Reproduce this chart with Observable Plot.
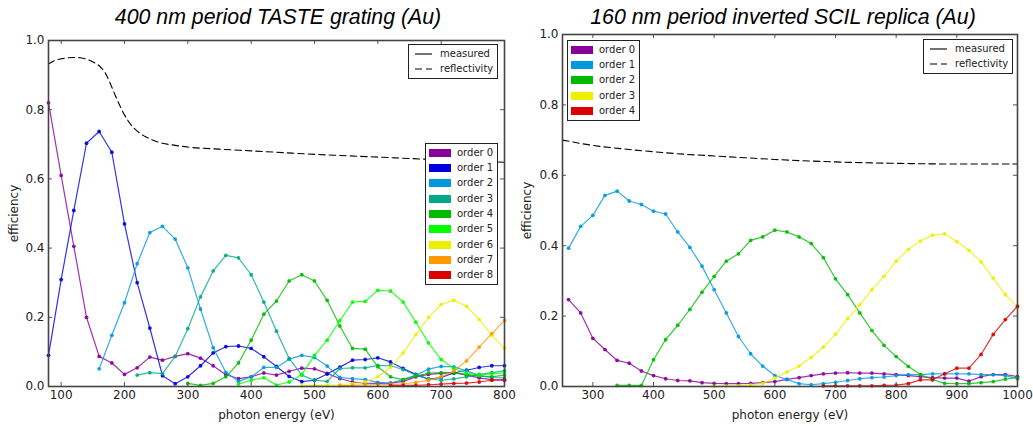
<!DOCTYPE html>
<html><head><meta charset="utf-8">
<script src="https://cdn.jsdelivr.net/npm/d3@7"></script>
<script src="https://cdn.jsdelivr.net/npm/@observablehq/plot@0.6"></script>
<style>
body{margin:0;background:#fff;}
#fig{position:relative;width:1033px;height:426px;overflow:hidden;font-family:"DejaVu Sans",sans-serif;background:#fff;}
.title{position:absolute;top:4px;line-height:26px;font-family:"Liberation Sans",Arial,sans-serif;font-style:italic;font-size:21.3px;white-space:nowrap;transform:translateX(-50%);color:#000;}
.panel{position:absolute;top:0;}
.legend{position:absolute;background:#fff;border:1px solid #222;font-size:10px;color:#222;box-sizing:border-box;}
.row{position:absolute;left:0;height:14px;line-height:14px;white-space:nowrap;}
.sw{position:absolute;width:22px;height:8px;}
.samp{position:absolute;}
</style>
</head><body>
<div id="fig"></div>
<script>
// ---------- data: left panel (400 nm period TASTE grating) ----------
const leftTitle = "400 nm period TASTE grating (Au)";
const leftEnergy = [80,100,120,140,160,180,200,220,240,260,280,300,320,340,360,380,400,420,440,460,480,500,520,540,560,580,600,620,640,660,680,700,720,740,760,780,800];
const leftOrder0 = [0.82,0.61,0.405,0.20,0.087,0.068,0.035,0.054,0.085,0.076,0.087,0.095,0.082,0.06,0.034,0.023,0.028,0.039,0.033,0.044,0.053,0.051,0.038,0.023,0.013,0.01,0.009,0.01,0.015,0.028,0.035,0.038,0.04,0.033,0.025,0.02,0.018];
const leftOrder1 = [0.09,0.309,0.509,0.703,0.737,0.677,0.47,0.30,0.169,0.031,0.008,0.028,0.06,0.097,0.115,0.117,0.11,0.086,0.058,0.029,0.014,0.018,0.036,0.056,0.076,0.078,0.083,0.071,0.052,0.035,0.021,0.026,0.039,0.047,0.055,0.06,0.06];
const leftOrder2 = [null,null,null,null,0.051,0.148,0.242,0.355,0.445,0.463,0.426,0.343,0.224,0.112,0.041,0.015,0.028,0.055,0.055,0.079,0.09,0.084,0.059,0.026,0.023,0.02,0.012,0.01,0.02,0.033,0.05,0.058,0.057,0.045,0.032,0.026,0.025];
const leftOrder3 = [null,null,null,null,null,null,null,0.033,0.04,0.037,0.087,0.167,0.259,0.334,0.379,0.372,0.323,0.244,0.16,0.081,0.033,0.018,0.015,0.052,0.054,0.054,0.061,0.06,0.049,0.033,0.022,0.018,0.022,0.028,0.035,0.04,0.045];
const leftOrder4 = [null,null,null,null,null,null,null,null,null,null,null,0.009,0.003,0.009,0.028,0.068,0.134,0.209,0.247,0.305,0.323,0.305,0.249,0.175,0.11,0.108,0.057,0.028,0.02,0.03,0.039,0.04,0.04,0.035,0.03,0.028,0.033];
const leftOrder5 = [null,null,null,null,null,null,null,null,null,null,null,null,null,null,null,0.007,0.018,0.025,0.004,0.013,0.035,0.09,0.134,0.19,0.244,0.246,0.278,0.276,0.244,0.186,0.126,0.078,0.052,0.039,0.033,0.037,0.039];
const leftOrder6 = [null,null,null,null,null,null,null,null,null,null,null,null,null,null,null,null,null,null,null,null,0.002,0.003,0.004,0.005,0.008,0.013,0.028,0.055,0.097,0.15,0.2,0.237,0.249,0.232,0.194,0.148,0.11];
const leftOrder7 = [null,null,null,null,null,null,null,null,null,null,null,null,null,null,null,null,null,null,null,null,null,null,null,0.002,0.003,0.005,0.005,0.006,0.008,0.012,0.018,0.028,0.045,0.074,0.114,0.153,0.191];
const leftOrder8 = [null,null,null,null,null,null,null,null,null,null,null,null,null,null,null,null,null,null,null,null,null,null,null,null,null,null,null,0.003,0.003,0.003,0.005,0.007,0.009,0.01,0.013,0.018,0.02];
const leftReflEnergy = [80,90,100,110,120,130,140,150,160,170,180,190,200,210,220,230,240,260,280,300,350,400,450,500,550,600,650,700,750,800];
const leftReflValue = [0.932,0.942,0.947,0.95,0.951,0.95,0.946,0.938,0.927,0.905,0.865,0.822,0.785,0.757,0.738,0.725,0.716,0.703,0.697,0.692,0.686,0.681,0.676,0.671,0.667,0.663,0.659,0.655,0.651,0.648];
const leftXTicks = [100,200,300,400,500,600,700,800];
const leftOrderNames = ["order 0","order 1","order 2","order 3","order 4","order 5","order 6","order 7","order 8"];
const leftColors = ["#880099","#0000dd","#0099dd","#00aa88","#00bb00","#00ff00","#eeee00","#ff9900","#dd0000"];

// ---------- data: right panel (160 nm period inverted SCIL replica) ----------
const rightTitle = "160 nm period inverted SCIL replica (Au)";
const rightEnergy = [260,280,300,320,340,360,380,400,420,440,460,480,500,520,540,560,580,600,620,640,660,680,700,720,740,760,780,800,820,840,860,880,900,920,940,960,980,1000];
const rightOrder0 = [0.247,0.209,0.137,0.105,0.074,0.066,0.044,0.031,0.022,0.017,0.016,0.011,0.009,0.008,0.008,0.009,0.011,0.014,0.02,0.025,0.031,0.036,0.038,0.039,0.038,0.038,0.036,0.034,0.031,0.028,0.025,0.024,0.024,0.015,0.028,0.034,0.034,0.028];
const rightOrder1 = [0.393,0.455,0.486,0.543,0.555,0.527,0.517,0.498,0.49,0.439,0.395,0.342,0.275,0.209,0.142,0.093,0.058,0.031,0.02,0.008,0.005,0.008,0.012,0.017,0.022,0.025,0.027,0.031,0.034,0.034,0.036,0.036,0.036,0.036,0.034,0.034,0.031,0.022];
const rightOrder2 = [null,null,null,null,0.003,0.003,0.003,0.076,0.133,0.174,0.219,0.268,0.313,0.356,0.377,0.415,0.425,0.444,0.439,0.425,0.406,0.366,0.306,0.261,0.209,0.159,0.117,0.085,0.057,0.034,0.02,0.009,0.008,0.008,0.011,0.014,0.021,0.026];
const rightOrder3 = [null,null,null,null,null,null,null,null,null,null,null,null,0.0,0.001,0.002,0.004,0.009,0.024,0.041,0.058,0.083,0.112,0.148,0.193,0.232,0.275,0.313,0.356,0.389,0.413,0.43,0.434,0.412,0.387,0.354,0.308,0.261,0.226];
const rightOrder4 = [null,null,null,null,null,null,null,null,null,null,null,null,null,null,null,null,null,null,null,null,null,0.002,0.002,0.002,0.002,0.002,0.003,0.004,0.008,0.019,0.019,0.036,0.052,0.052,0.091,0.148,0.19,0.228];
const rightReflEnergy = [250,300,350,400,450,500,550,600,700,800,900,1000];
const rightReflValue = [0.70,0.685,0.675,0.667,0.66,0.655,0.65,0.645,0.638,0.634,0.632,0.632];
const rightXTicks = [300,400,500,600,700,800,900,1000];
const rightOrderNames = ["order 0","order 1","order 2","order 3","order 4"];
const rightColors = ["#880099","#0099dd","#00bb00","#eeee00","#dd0000"];

const yTicks = [0,0.2,0.4,0.6,0.8,1.0];
const lineNames = ["measured","reflectivity"];

// ---------- drawing ----------
const fig = document.getElementById("fig");
const H = 426, MB = 40, MR = 16;

function drawPanel({left, width, marginLeft, marginTop, energy, series, colors, reflE, reflV, xDomain, xTicks, yLabelOffset}) {
  const ph = H - marginTop - MB, pw = width - marginLeft - MR;
  const marks = [];
  series.forEach((vals, k) => {
    const d = energy.map((e, i) => ({e, v: vals[i]})).filter(r => r.v != null);
    marks.push(Plot.line(d, {x: "e", y: "v", stroke: colors[k], strokeWidth: 1.2, strokeOpacity: 0.8}));
    marks.push(Plot.dot(d, {x: "e", y: "v", fill: colors[k], r: 1.9, fillOpacity: 0.9}));
  });
  const refl = reflE.map((e, i) => ({e, v: reflV[i]}));
  marks.unshift(Plot.line(refl, {x: "e", y: "v", stroke: "#000", strokeWidth: 1.1, strokeDasharray: "6.5,4", curve: "monotone-x"}));
  const tc = "#555";
  marks.push(
    Plot.tickX(xTicks, {x: d => d, stroke: tc, insetTop: ph - 4}),
    Plot.tickX(xTicks, {x: d => d, stroke: tc, insetBottom: ph - 4}),
    Plot.tickY(yTicks, {y: d => d, stroke: tc, insetRight: pw - 4}),
    Plot.tickY(yTicks, {y: d => d, stroke: tc, insetLeft: pw - 4}),
    Plot.axisX(xTicks, {tickSize: 0, tickPadding: 4, fontSize: 12, fill: "#222", tickFormat: d3.format("d"),
      label: "photon energy (eV)", labelAnchor: "center", labelArrow: "none", labelOffset: 32}),
    Plot.axisY(yTicks, {tickSize: 0, tickPadding: 4, fontSize: 12, fill: "#222", tickFormat: d3.format(".1f"),
      label: "efficiency", labelAnchor: "center", labelArrow: "none", labelOffset: yLabelOffset}),
    Plot.frame({stroke: "#444", strokeWidth: 1.6})
  );
  const svg = Plot.plot({
    width, height: H, marginTop, marginBottom: MB, marginLeft, marginRight: MR,
    x: {domain: xDomain}, y: {domain: [0, 1]},
    style: {fontFamily: "DejaVu Sans, sans-serif", fontSize: "11px", background: "transparent", color: "#222", overflow: "visible"},
    marks
  });
  const wrap = document.createElement("div");
  wrap.className = "panel";
  wrap.style.left = left + "px";
  wrap.appendChild(svg);
  fig.appendChild(wrap);
}

drawPanel({left: 0, width: 520, marginLeft: 48, marginTop: 40, energy: leftEnergy,
  series: [leftOrder0,leftOrder1,leftOrder2,leftOrder3,leftOrder4,leftOrder5,leftOrder6,leftOrder7,leftOrder8],
  colors: leftColors, reflE: leftReflEnergy, reflV: leftReflValue, xDomain: [80, 800], xTicks: leftXTicks, yLabelOffset: 39});
drawPanel({left: 520, width: 513, marginLeft: 42, marginTop: 34, energy: rightEnergy,
  series: [rightOrder0,rightOrder1,rightOrder2,rightOrder3,rightOrder4],
  colors: rightColors, reflE: rightReflEnergy, reflV: rightReflValue, xDomain: [250, 1000], xTicks: rightXTicks, yLabelOffset: 40});

function addTitle(text, cx) {
  const t = document.createElement("div");
  t.className = "title"; t.textContent = text; t.style.left = cx + "px";
  fig.appendChild(t);
}
addTitle(leftTitle, 278);
addTitle(rightTitle, 783);

function orderLegend(names, colors, x, y, w) {
  const box = document.createElement("div");
  box.className = "legend";
  Object.assign(box.style, {left: x + "px", top: y + "px", width: w + "px", height: (names.length * 15.35 + 4) + "px"});
  names.forEach((n, i) => {
    const r = document.createElement("div");
    r.className = "row"; r.style.top = (1.5 + i * 15.35) + "px"; r.style.width = "100%";
    const s = document.createElement("span");
    s.className = "sw"; Object.assign(s.style, {left: "3px", top: "3px", background: colors[i]});
    const t = document.createElement("span");
    t.textContent = n; t.style.position = "absolute"; t.style.left = "31px";
    r.appendChild(s); r.appendChild(t); box.appendChild(r);
  });
  fig.appendChild(box);
}
function lineLegend(x, y) {
  const box = document.createElement("div");
  box.className = "legend";
  Object.assign(box.style, {left: x + "px", top: y + "px", width: "90px", height: "35px"});
  lineNames.forEach((n, i) => {
    const r = document.createElement("div");
    r.className = "row"; r.style.top = (2 + i * 15.4) + "px"; r.style.width = "100%";
    const ns = "http://www.w3.org/2000/svg";
    const sv = document.createElementNS(ns, "svg");
    sv.setAttribute("width", 20); sv.setAttribute("height", 14);
    sv.setAttribute("class", "samp"); sv.style.left = "5px"; sv.style.top = "0px";
    const ln = document.createElementNS(ns, "line");
    ln.setAttribute("x1", 1); ln.setAttribute("x2", 18); ln.setAttribute("y1", 7); ln.setAttribute("y2", 7);
    ln.setAttribute("stroke", "#000"); ln.setAttribute("stroke-width", 1.1);
    if (i === 1) ln.setAttribute("stroke-dasharray", "7,4");
    sv.appendChild(ln);
    const t = document.createElement("span");
    t.textContent = n; t.style.position = "absolute"; t.style.left = "31px";
    r.appendChild(sv); r.appendChild(t); box.appendChild(r);
  });
  fig.appendChild(box);
}
lineLegend(408, 44);
orderLegend(leftOrderNames, leftColors, 425, 143, 73);
lineLegend(923, 39);
orderLegend(rightOrderNames, rightColors, 567, 40, 73);
</script>
</body></html>
